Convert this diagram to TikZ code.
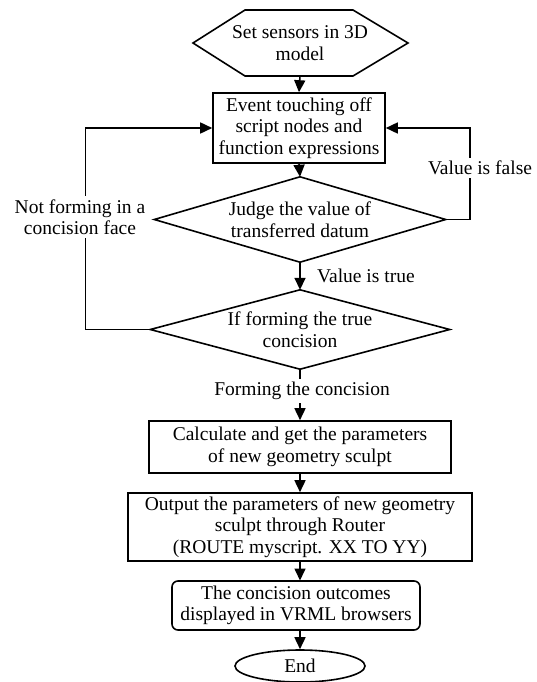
\documentclass[tikz,border=0pt]{standalone}
\usepackage{fontspec}
\setmainfont{Liberation Serif}
\usetikzlibrary{arrows.meta,shapes.geometric}
\begin{document}
\begin{tikzpicture}[x=1pt,y=-1pt,
  every node/.style={font=\fontsize{19.5}{21.5}\selectfont, align=center, inner sep=0pt},
  box/.style={draw, line width=1.6pt, rectangle},
  arr/.style={-{Triangle[length=12pt,width=11pt]}, line width=1.6pt},
  ln/.style={line width=1.6pt, line join=miter},
  lbl/.style={fill=white, inner sep=3pt}]
\useasboundingbox (0,0) rectangle (537,682);
% start hexagon
\node (start) at (300,43) [minimum width=215pt, minimum height=66pt] {Set sensors in 3D\\model};
\draw[ln] (193,43) -- (245,10) -- (353,10) -- (408,43) -- (353,76) -- (245,76) -- cycle;
\coordinate (starts) at (300,76);
\node (b1) at (299,128) [box, minimum width=172pt, minimum height=70pt] {Event touching off\\script nodes and\\function expressions};
\node (d1) at (300,219.5) [minimum width=291pt, minimum height=85pt] {Judge the value of\\transferred datum};
\draw[ln] (d1.north) -- (d1.east) -- (d1.south) -- (d1.west) -- cycle;
\node (d2) at (300,329.5) [minimum width=299pt, minimum height=79pt] {If forming the true\\concision};
\draw[ln] (d2.north) -- (d2.east) -- (d2.south) -- (d2.west) -- cycle;
\node (b2) at (300,447) [box, minimum width=302pt, minimum height=52pt] {Calculate and get the parameters\\of new geometry sculpt};
\node (b3) at (300,527) [box, minimum width=344pt, minimum height=68pt] {Output the parameters of new geometry\\sculpt through Router\\(ROUTE myscript. XX TO YY)};
\node (b4) at (296,605.5) [box, rounded corners=6pt, minimum width=248pt, minimum height=49pt] {The concision outcomes\\displayed in VRML browsers};
\node (end) at (300,666) [draw, line width=1.6pt, ellipse, minimum width=130pt, minimum height=32pt] {End};
% connectors
\draw[arr] (starts) -- (b1.north);
\draw[arr] (b1.south) -- (d1.north);
\draw[arr] (d1.south) -- (d2.north);
\draw[arr] (d2.south) -- (b2.north);
\draw[arr] (b2.south) -- (b3.north);
\draw[arr] (b3.south) -- (300,580.5);
\draw[arr] (b4.south -| end.north) -- (end.north);
\draw[arr] (d1.east) -- ++(24,0) |- (b1.east);
\draw[arr] (d2.west) -- ++(-65,0) |- (b1.west);
% labels
\node (lf) at (480,168) [lbl] {Value is false};
\node (ln) at (80,217) [lbl] {Not forming in a\\concision face};
\node (lt) at (317,276) [anchor=west] {Value is true};
\node (lc) at (302,391) [lbl] {Forming the concision};
\end{tikzpicture}
\end{document}
